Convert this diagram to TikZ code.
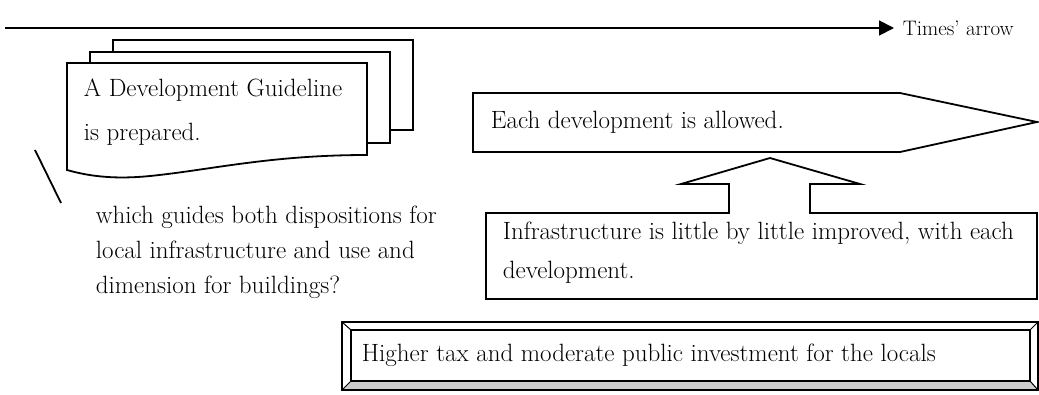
\documentclass[tikz,border=0pt]{standalone}
\usetikzlibrary{arrows.meta}
\begin{document}
\begin{tikzpicture}[x=1pt,y=-1pt,line width=1.8pt,line join=miter,
  txt/.style={anchor=west,inner sep=0pt,align=left,font=\fontsize{25}{35}\selectfont},
  page/.style={draw,fill=white}]
\useasboundingbox (0,0) rectangle (1039,394);
%%%% time axis
\coordinate (t0) at (5,28);
\node[anchor=west,inner sep=0pt,font=\fontsize{21}{24}\selectfont] (times) at (902,28) {Times' arrow};
\draw[-{Triangle[length=15pt,width=15pt]}] (t0) -- ([xshift=-8pt]times.west);
%%%% guideline pages
\draw[page] (113,40) rectangle (413,130);
\draw[page] (90,52) rectangle (390,143);
\draw[page] (67,63) -- (367,63) -- (367,155)
  .. controls (270,155) and (210,170) .. (150,176)
  .. controls (110,180) and (85,175) .. (67,170) -- cycle;
\node[txt,font=\fontsize{25}{44}\selectfont] (guide) at (83,112) {A Development Guideline\\is prepared.};
\draw (35,150) -- (61,203);
\node[txt] (question) at (95,252) {which guides both dispositions for\\local infrastructure and use and\\dimension for buildings?};
%%%% development arrow
\draw (473,93) -- (900,93) -- (1037,122) -- (900,152) -- (473,152) -- cycle;
\node[txt] (allowed) at (490,122) {Each development is allowed.};
%%%% infrastructure box with up arrow
\draw (486,213) -- (729,213) -- (729,184) -- (681,184) -- (770,158) -- (860,184)
  -- (810,184) -- (810,213) -- (1037,213) -- (1037,299) -- (486,299) -- cycle;
\node[txt,font=\fontsize{25}{39}\selectfont] (infra) at (502,253) {Infrastructure is little by little improved, with each\\development.};
%%%% bevel box
\fill[gray!40] (342,390) -- (351,381) -- (1030,381) -- (1038,390) -- cycle;
\draw (342,322) rectangle (1038,390);
\draw (351,330) rectangle (1030,381);
\draw[line width=1pt] (342,322) -- (351,330) (1038,322) -- (1030,330)
  (342,390) -- (351,381) (1038,390) -- (1030,381);
\node[txt] (tax) at (361,355) {Higher tax and moderate public investment for the locals};
\end{tikzpicture}
\end{document}
